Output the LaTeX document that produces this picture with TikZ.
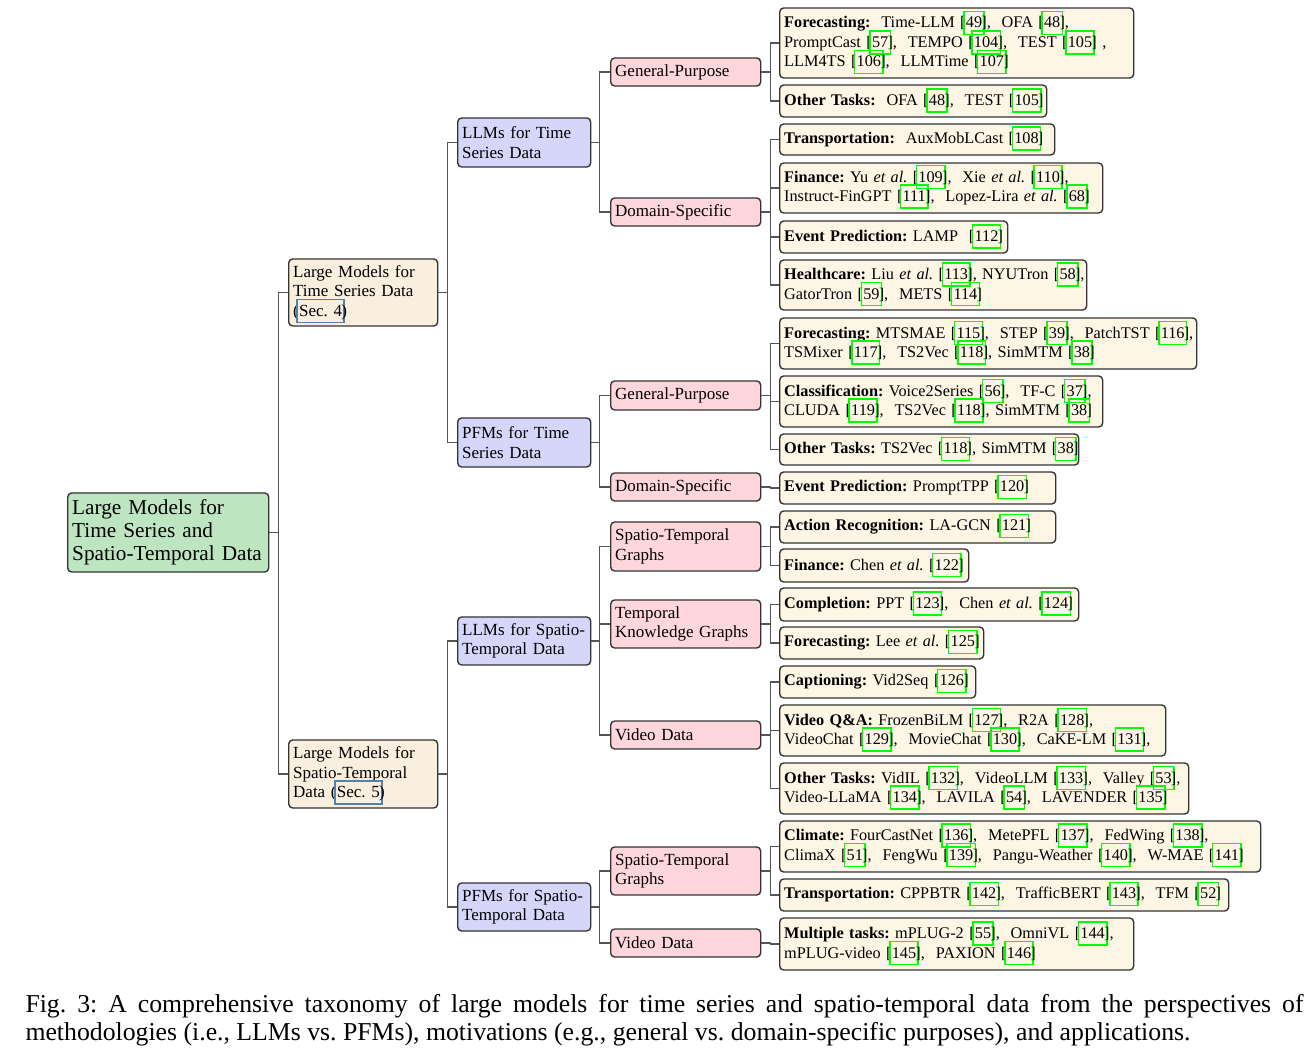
\documentclass[tikz,border=0pt]{standalone}
\usepackage{fontspec}
\setmainfont{Liberation Serif}
\usepackage{xcolor}

\definecolor{rootfill}{HTML}{BDE5C0}
\definecolor{secfill}{HTML}{FAEEDE}
\definecolor{methfill}{HTML}{D6D6FA}
\definecolor{motfill}{HTML}{FFD6DC}
\definecolor{leaffill}{HTML}{FDF6E5}
\definecolor{citgreen}{RGB}{0,255,0}
\definecolor{secblue}{RGB}{80,130,170}
\definecolor{linkgray}{HTML}{555555}

% hyperlink-style framed references (smashed so they leave line spacing alone)
\newcommand\linkbox[2]{\smash{{\setlength\fboxsep{0pt}\setlength\fboxrule{0.6pt}\color{#1}\fbox{\color{black}\rule[-2.3pt]{0pt}{8.6pt}\kern0.5pt#2\kern0.5pt}}}}
\newcommand\cit[1]{[\kern-1pt\linkbox{citgreen}{#1}\kern-1.4pt]}
\newcommand\secref[1]{(\kern-1pt\linkbox{secblue}{Sec.~#1}\kern-1.4pt)}

\tikzset{
  box/.style={draw=black!80, line width=0.55pt, rounded corners=1.6pt,
    inner xsep=1.8pt, inner ysep=0pt, align=left, anchor=west},
  sz/.code 2 args={%
    \pgfmathsetlengthmacro\boxtw{(#1)*0.4pt-3.6pt}%
    \pgfmathsetlengthmacro\boxmh{(#2)*0.4pt}%
    \edef\boxdo{\noexpand\tikzset{text width=\boxtw, minimum height=\boxmh}}\boxdo},
  rootbox/.style={box, fill=rootfill, font=\fontsize{8.5}{9.2}\selectfont\frenchspacing},
  secbox/.style={box, fill=secfill, font=\fontsize{6.8}{7.8}\selectfont\frenchspacing},
  methbox/.style={box, fill=methfill, font=\fontsize{6.8}{7.8}\selectfont\frenchspacing},
  motbox/.style={box, fill=motfill, font=\fontsize{6.8}{7.8}\selectfont\frenchspacing},
  leafbox/.style={box, fill=leaffill, font=\fontsize{6.5}{7.8}\selectfont\frenchspacing},
  conn/.style={draw=linkgray, line width=0.7pt},
}

\begin{document}
\begin{tikzpicture}[x=0.4pt, y=-0.4pt]
\useasboundingbox (0,0) rectangle (1313,1050);

% root
\node[rootbox, sz={201}{79}] (root) at (67,532.5) {\mbox{Large Models for}\\\mbox{Time Series and}\\\mbox{Spatio-Temporal Data}};

% sections
\node[secbox, sz={149}{67}] (ts) at (288,292.5) {\mbox{Large Models for}\\\mbox{Time Series Data}\\\mbox{\secref{4}}};
\node[secbox, sz={149}{68}] (st) at (288,774) {\mbox{Large Models for}\\\mbox{Spatio-Temporal}\\\mbox{Data \secref{5}}};

% methodologies
\node[methbox, sz={133}{49}] (llmts) at (457,142.5) {\mbox{LLMs for Time}\\\mbox{Series Data}};
\node[methbox, sz={133}{49}] (pfmts) at (457,442.5) {\mbox{PFMs for Time}\\\mbox{Series Data}};
\node[methbox, sz={133}{48}] (llmst) at (457,641) {\mbox{LLMs for Spatio-}\\\mbox{Temporal Data}};
\node[methbox, sz={133}{48}] (pfmst) at (457,907) {\mbox{PFMs for Spatio-}\\\mbox{Temporal Data}};

% motivations / data types
\node[motbox, sz={150}{28}] (gp1) at (610,72) {General-Purpose};
\node[motbox, sz={150}{28}] (ds1) at (610,212) {Domain-Specific};
\node[motbox, sz={150}{29}] (gp2) at (610,395.5) {General-Purpose};
\node[motbox, sz={150}{28}] (ds2) at (610,487) {Domain-Specific};
\node[motbox, sz={150}{49}] (stg1) at (610,546.5) {\mbox{Spatio-Temporal}\\\mbox{Graphs}};
\node[motbox, sz={150}{48}] (tkg) at (610,624) {\mbox{Temporal}\\\mbox{Knowledge Graphs}};
\node[motbox, sz={150}{28}] (vid1) at (610,735) {Video Data};
\node[motbox, sz={150}{48}] (stg2) at (610,871) {\mbox{Spatio-Temporal}\\\mbox{Graphs}};
\node[motbox, sz={150}{28}] (vid2) at (610,943) {Video Data};

% applications
\node[leafbox, sz={354}{70}] (l1) at (779,43) {\mbox{\textbf{Forecasting:}~ Time-LLM \cit{49},~ OFA \cit{48},}\\\mbox{PromptCast \cit{57},~ TEMPO \cit{104},~ TEST \cit{105}~,}\\\mbox{LLM4TS \cit{106},~ LLMTime \cit{107}}};
\node[leafbox, sz={267}{32}] (l2) at (779,101) {\mbox{\textbf{Other Tasks:}~ OFA \cit{48},~ TEST \cit{105}}};
\node[leafbox, sz={275}{31}] (l3) at (779,139.5) {\mbox{\textbf{Transportation:}~ AuxMobLCast \cit{108}}};
\node[leafbox, sz={323}{50}] (l4) at (779,188) {\mbox{\textbf{Finance:} Yu \textit{et al.} \cit{109},~ Xie \textit{et al.} \cit{110},}\\\mbox{Instruct-FinGPT \cit{111},~ Lopez-Lira \textit{et al.} \cit{68}}};
\node[leafbox, sz={228}{32}] (l5) at (779,237) {\mbox{\textbf{Event Prediction:} LAMP~ \cit{112}}};
\node[leafbox, sz={307}{50}] (l6) at (779,285) {\mbox{\textbf{Healthcare:} Liu \textit{et al.} \cit{113}, NYUTron \cit{58},}\\\mbox{GatorTron \cit{59},~ METS \cit{114}}};
\node[leafbox, sz={417}{51}] (l7) at (779,343.5) {\mbox{\textbf{Forecasting:} MTSMAE \cit{115},~ STEP \cit{39},~ PatchTST \cit{116},}\\\mbox{TSMixer \cit{117},~ TS2Vec \cit{118}, SimMTM \cit{38}}};
\node[leafbox, sz={323}{51}] (l8) at (779,401.5) {\mbox{\textbf{Classification:} Voice2Series \cit{56},~ TF-C \cit{37},}\\\mbox{CLUDA \cit{119},~ TS2Vec \cit{118}, SimMTM \cit{38}}};
\node[leafbox, sz={299}{31}] (l9) at (779,449.5) {\mbox{\textbf{Other Tasks:} TS2Vec \cit{118}, SimMTM \cit{38}}};
\node[leafbox, sz={276}{32}] (l10) at (779,488) {\mbox{\textbf{Event Prediction:} PromptTPP \cit{120}}};
\node[leafbox, sz={276}{32}] (l11) at (779,527) {\mbox{\textbf{Action Recognition:} LA-GCN \cit{121}}};
\node[leafbox, sz={189}{33}] (l12) at (779,565.5) {\mbox{\textbf{Finance:} Chen \textit{et al.} \cit{122}}};
\node[leafbox, sz={299}{33}] (l13) at (779,604.5) {\mbox{\textbf{Completion:} PPT \cit{123},~ Chen \textit{et al.} \cit{124}}};
\node[leafbox, sz={204}{32}] (l14) at (779,643) {\mbox{\textbf{Forecasting:} Lee \textit{et al.} \cit{125}}};
\node[leafbox, sz={196}{32}] (l15) at (779,682) {\mbox{\textbf{Captioning:} Vid2Seq \cit{126}}};
\node[leafbox, sz={386}{51}] (l16) at (779,730.5) {\mbox{\textbf{Video Q\&A:} FrozenBiLM \cit{127},~ R2A \cit{128},}\\\mbox{VideoChat \cit{129},~ MovieChat \cit{130},~ CaKE-LM \cit{131},}};
\node[leafbox, sz={409}{51}] (l17) at (779,788.5) {\mbox{\textbf{Other Tasks:} VidIL \cit{132},~ VideoLLM \cit{133},~ Valley \cit{53},}\\\mbox{Video-LLaMA \cit{134},~ LAVILA \cit{54},~ LAVENDER \cit{135}}};
\node[leafbox, sz={481}{51}] (l18) at (779,846.5) {\mbox{\textbf{Climate:} FourCastNet \cit{136},~ MetePFL \cit{137},~ FedWing \cit{138},}\\\mbox{ClimaX \cit{51},~ FengWu \cit{139},~ Pangu-Weather \cit{140},~ W-MAE \cit{141}}};
\node[leafbox, sz={449}{32}] (l19) at (779,895) {\mbox{\textbf{Transportation:} CPPBTR \cit{142},~ TrafficBERT \cit{143},~ TFM \cit{52}}};
\node[leafbox, sz={354}{52}] (l20) at (779,944) {\mbox{\textbf{Multiple tasks:} mPLUG-2 \cit{55},~ OmniVL \cit{144},}\\\mbox{mPLUG-video \cit{145},~ PAXION \cit{146}}};

% tree connectors
\foreach \c in {ts,st} \draw[conn] (root.east) -- ++(9,0) |- (\c.west);
\foreach \c in {llmts,pfmts} \draw[conn] (ts.east) -- ++(9,0) |- (\c.west);
\foreach \c in {llmst,pfmst} \draw[conn] (st.east) -- ++(9,0) |- (\c.west);
\foreach \c in {gp1,ds1} \draw[conn] (llmts.east) -- ++(8,0) |- (\c.west);
\foreach \c in {gp2,ds2} \draw[conn] (pfmts.east) -- ++(8,0) |- (\c.west);
\foreach \c in {stg1,tkg,vid1} \draw[conn] (llmst.east) -- ++(8,0) |- (\c.west);
\foreach \c in {stg2,vid2} \draw[conn] (pfmst.east) -- ++(8,0) |- (\c.west);
\foreach \c in {l1,l2} \draw[conn] (gp1.east) -- ++(9,0) |- (\c.west);
\foreach \c in {l3,l4,l5,l6} \draw[conn] (ds1.east) -- ++(9,0) |- (\c.west);
\foreach \c in {l7,l8,l9} \draw[conn] (gp2.east) -- ++(9,0) |- (\c.west);
\foreach \c in {l10} \draw[conn] (ds2.east) -- ++(9,0) |- (\c.west);
\foreach \c in {l11,l12} \draw[conn] (stg1.east) -- ++(9,0) |- (\c.west);
\foreach \c in {l13,l14} \draw[conn] (tkg.east) -- ++(9,0) |- (\c.west);
\foreach \c in {l15,l16,l17} \draw[conn] (vid1.east) -- ++(9,0) |- (\c.west);
\foreach \c in {l18,l19} \draw[conn] (stg2.east) -- ++(9,0) |- (\c.west);
\foreach \c in {l20} \draw[conn] (vid2.east) -- ++(9,0) |- (\c.west);

% caption
\node[anchor=north west, inner sep=0pt, text width=511.2pt, align=justify,
  font=\fontsize{10.3}{11.2}\selectfont\frenchspacing] (cap) at (25,994)
  {Fig.~3: A comprehensive taxonomy of large models for time series and spatio-temporal data from the perspectives of\linebreak methodologies (i.e., LLMs vs. PFMs), motivations (e.g., general vs. domain-specific purposes), and applications.};
\end{tikzpicture}
\end{document}
